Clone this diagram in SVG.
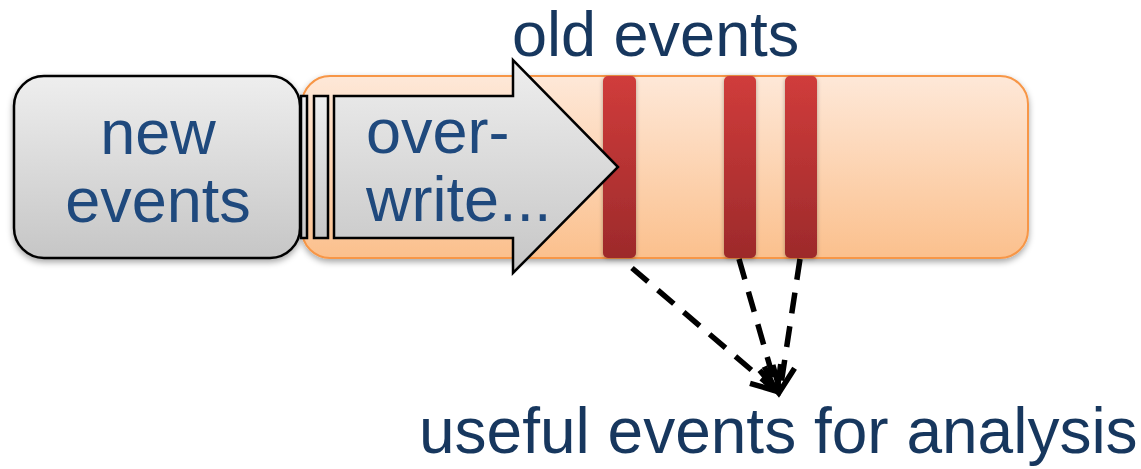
<svg xmlns="http://www.w3.org/2000/svg" width="1141" height="469" viewBox="0 0 1141 469">
<style>
  .lbl { font-family: "Liberation Sans", Arial, sans-serif; font-size: 63px; fill: #1F497D; }
  .out { fill: #17375E; }
  .big { font-size: 64px; }
  .gray { fill: url(#gGray); stroke: #000; stroke-width: 2.5; }
  .red { fill: url(#gRed); filter: url(#shRed); }
  .dash { fill: none; stroke: #000; stroke-width: 5.5; stroke-dasharray: 21 13; marker-end: url(#arr); }
</style>
<defs>
  <linearGradient id="gGray" x1="0" y1="0" x2="0" y2="1">
    <stop offset="0" stop-color="#EEEEEE"/>
    <stop offset="1" stop-color="#C6C6C6"/>
  </linearGradient>
  <linearGradient id="gOrange" x1="0" y1="0" x2="0" y2="1">
    <stop offset="0" stop-color="#FEE8D8"/>
    <stop offset="1" stop-color="#FBC08D"/>
  </linearGradient>
  <linearGradient id="gRed" x1="0" y1="0" x2="0" y2="1">
    <stop offset="0" stop-color="#D03C3B"/>
    <stop offset="1" stop-color="#9D2A2B"/>
  </linearGradient>
  <filter id="sh" x="-10%" y="-10%" width="120%" height="130%">
    <feDropShadow dx="0" dy="3" stdDeviation="3" flood-color="#000" flood-opacity="0.35"/>
  </filter>
  <filter id="shRed" x="-30%" y="-10%" width="160%" height="120%">
    <feDropShadow dx="0" dy="1" stdDeviation="2" flood-color="#000" flood-opacity="0.3"/>
  </filter>
  <marker id="arr" markerWidth="8" markerHeight="8" refX="6" refY="4" orient="auto" markerUnits="strokeWidth">
    <path d="M1.5,2 L6,4 L1.5,6" fill="none" stroke="#000" stroke-width="1"/>
  </marker>
</defs>

<g id="buffer">
  <rect x="302" y="76" width="726" height="182" rx="28" fill="url(#gOrange)" stroke="#F79646" stroke-width="2" filter="url(#sh)"/>
</g>
<g id="old-events-bars">
  <rect class="red" x="603" y="76" width="33" height="182" rx="5"/>
  <rect class="red" x="724" y="76" width="32" height="182" rx="5"/>
  <rect class="red" x="785" y="76" width="32" height="182" rx="5"/>
</g>
<g id="new-events">
  <rect class="gray" x="14" y="76" width="286" height="182" rx="30" filter="url(#sh)"/>
  <text class="lbl" x="158" y="154" text-anchor="middle">new</text>
  <text class="lbl" x="158" y="222" text-anchor="middle">events</text>
</g>
<g id="overwrite-arrow">
  <rect class="gray" x="301" y="96" width="6" height="142"/>
  <rect class="gray" x="314" y="96" width="14" height="142"/>
  <polygon class="gray" points="334,96 513,96 513,60 618,167 513,273 513,238 334,238"/>
  <text class="lbl" x="366" y="153">over-</text>
  <text class="lbl" x="366" y="221">write...</text>
</g>
<g id="old-events-label">
  <text class="lbl out" x="512" y="56">old events</text>
</g>
<g id="useful-label">
  <text class="lbl out big" x="419" y="453">useful events for analysis</text>
</g>
<g id="connectors">
  <line class="dash" x1="632" y1="268" x2="776" y2="391"/>
  <line class="dash" x1="739" y1="259" x2="777" y2="391"/>
  <line class="dash" x1="800" y1="259" x2="780" y2="391"/>
</g>
</svg>
